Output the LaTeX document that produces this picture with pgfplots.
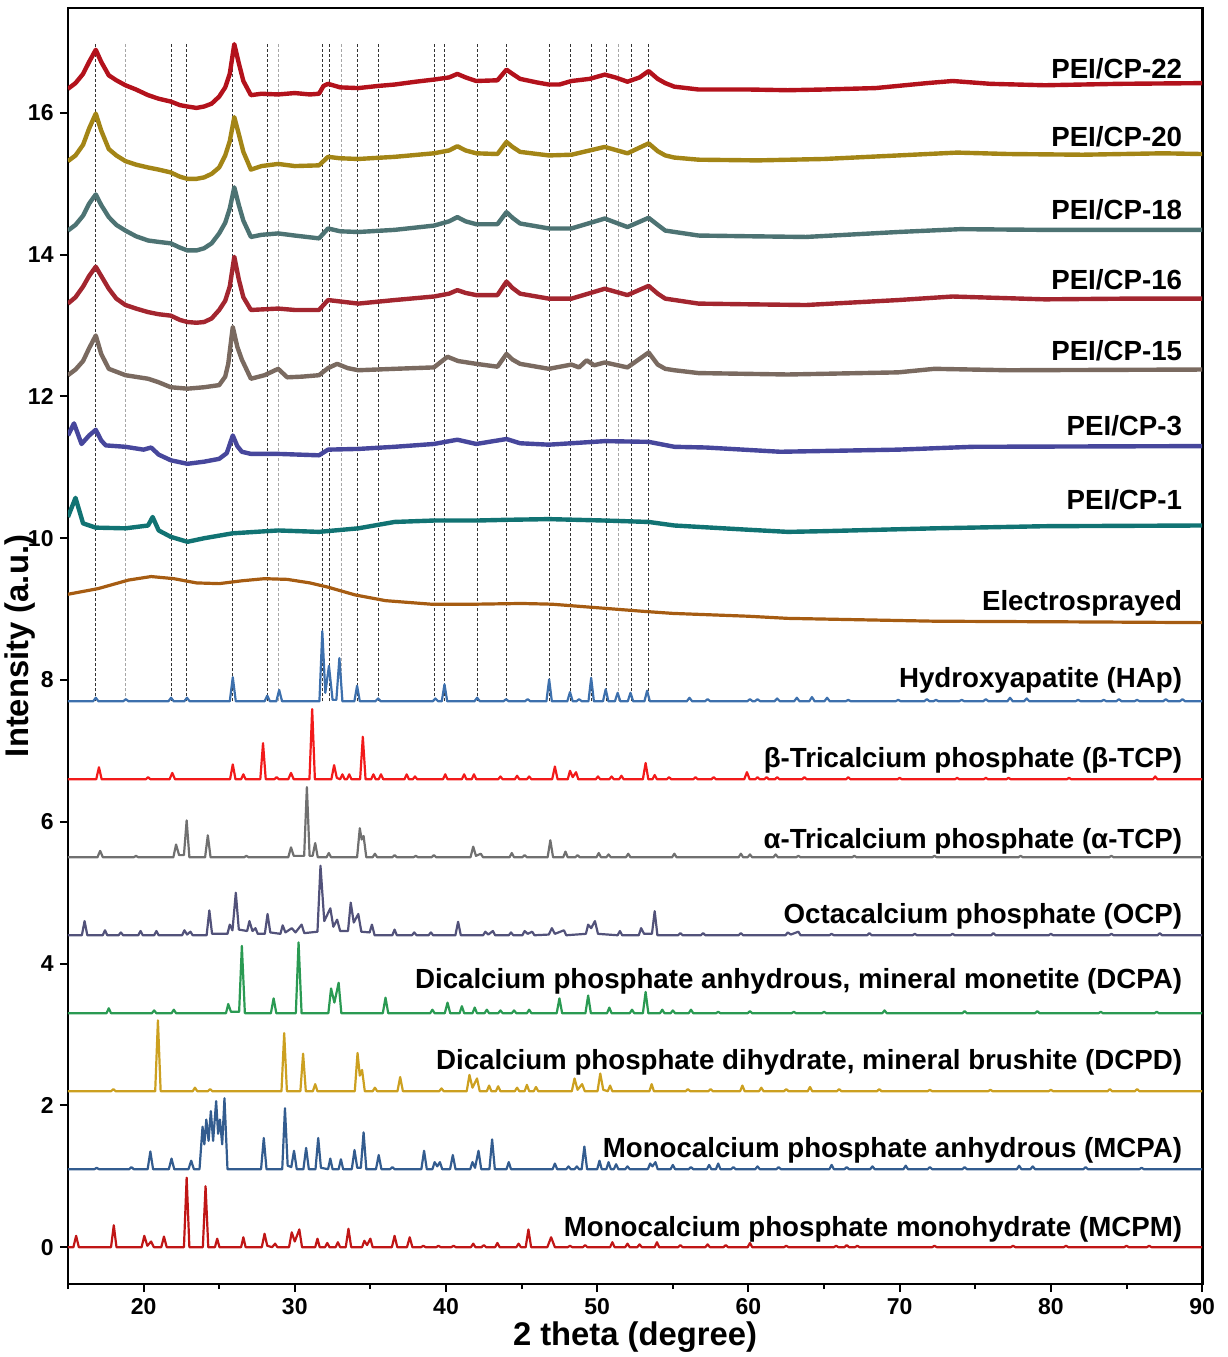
\documentclass[border=0pt]{standalone}
\usepackage{fontspec}
\setmainfont{Liberation Sans}
\usepackage{pgfplots}
\pgfplotsset{compat=1.18}
\definecolor{c22}{HTML}{B3121C}
\definecolor{c20}{HTML}{A38516}
\definecolor{c18}{HTML}{4D7373}
\definecolor{c16}{HTML}{A3262F}
\definecolor{c15}{HTML}{7A6A60}
\definecolor{c3}{HTML}{47479C}
\definecolor{c1}{HTML}{117373}
\definecolor{cel}{HTML}{A65C12}
\definecolor{chap}{HTML}{3D70AD}
\definecolor{cbtcp}{HTML}{F21A1A}
\definecolor{catcp}{HTML}{707070}
\definecolor{cocp}{HTML}{52527A}
\definecolor{cdcpa}{HTML}{2A9A52}
\definecolor{cdcpd}{HTML}{CCA020}
\definecolor{cmcpa}{HTML}{335C8F}
\definecolor{cmcpm}{HTML}{C01616}
\begin{document}
\begin{tikzpicture}
\begin{axis}[
  scale only axis, width=567.5pt, height=638.5pt,
  xmin=15, xmax=90, ymin=-0.52, ymax=17.48,
  xtick={20,30,...,90}, minor xtick={15,25,...,85},
  ytick={0,2,...,16},
  tick align=outside, tick pos=left,
  major tick length=4pt, minor tick length=2.5pt,
  axis line style={line width=1.4pt},
  every tick/.style={line width=1pt, black},
  /pgf/number format/assume math mode=true,
  ticklabel style={font=\bfseries\fontsize{11.5}{13}\selectfont},
  xticklabel style={inner sep=0pt, anchor=north, yshift=-3pt},
  yticklabel style={inner sep=0pt, anchor=east, xshift=-3pt},
  xlabel={2 theta (degree)}, ylabel={Intensity (a.u.)},
  label style={font=\bfseries\fontsize{16.4}{18}\selectfont},
  xlabel style={at={(axis description cs:0.5,-0.0415)}, anchor=center},
  ylabel style={at={(axis description cs:-0.0423,0.5)}, anchor=center},
  every axis plot/.append style={line join=round},
  unbounded coords=jump,
]
% dashed reference lines (HAp positions)
\addplot[black!80, line width=0.5pt, dash pattern=on 1.5pt off 1pt] coordinates {
(16.84,7.7)(16.84,17.0)(16.84,nan)
(21.82,7.7)(21.82,17.0)(21.82,nan)
(22.87,7.7)(22.87,17.0)(22.87,nan)
(25.9,7.7)(25.9,17.0)(25.9,nan)
(28.18,7.7)(28.18,17.0)(28.18,nan)
(31.84,7.7)(31.84,17.0)(31.84,nan)
(32.32,7.7)(32.32,17.0)(32.32,nan)
(34.12,7.7)(34.12,17.0)(34.12,nan)
(35.51,7.7)(35.51,17.0)(35.51,nan)
(39.23,7.7)(39.23,17.0)(39.23,nan)
(39.91,7.7)(39.91,17.0)(39.91,nan)
(42.05,7.7)(42.05,17.0)(42.05,nan)
(43.97,7.7)(43.97,17.0)(43.97,nan)
(46.84,7.7)(46.84,17.0)(46.84,nan)
(48.2,7.7)(48.2,17.0)(48.2,nan)
(49.65,7.7)(49.65,17.0)(49.65,nan)
(50.61,7.7)(50.61,17.0)(50.61,nan)
(52.26,7.7)(52.26,17.0)(52.26,nan)
(53.39,7.7)(53.39,17.0)
};
\addplot[black!35, line width=0.5pt, dash pattern=on 1.5pt off 1pt] coordinates {
(18.83,7.7)(18.83,17.0)(18.83,nan)
(28.91,7.7)(28.91,17.0)(28.91,nan)
(33.07,7.7)(33.07,17.0)(33.07,nan)
(51.43,7.7)(51.43,17.0)
};
% MCPM
\addplot[cmcpm, line width=1.1pt] coordinates {
(15,0)(15.36,0)(15.54,0.16)(15.72,0)(17.85,0)(18.03,0.31)(18.21,0)(19.87,0)(20.05,0.16)(20.25,0.02)(20.5,0.08)(20.68,0)(21.17,0)(21.35,0.15)(21.53,0)(22.67,0)(22.85,0.98)(23.03,0)(23.92,0)(24.1,0.86)(24.28,0)(24.72,0)(24.87,0.12)(25.02,0)(26.45,0)(26.6,0.14)(26.75,0)(27.82,0)(28.0,0.19)(28.18,0.02)(28.5,0)(28.7,0.05)(28.85,0)(29.62,0)(29.8,0.21)(30.0,0.08)(30.3,0.25)(30.48,0)(31.35,0)(31.5,0.12)(31.65,0)(32.0,0)(32.15,0.06)(32.3,0)(32.7,0)(32.85,0.07)(33.0,0)(33.37,0)(33.55,0.26)(33.73,0)(34.45,0)(34.6,0.09)(34.78,0.03)(35.0,0.12)(35.15,0)(36.42,0)(36.6,0.16)(36.78,0)(37.42,0)(37.6,0.14)(37.78,0)(38.35,0)(38.5,0.02)(38.65,0)(39.35,0)(39.5,0.02)(39.65,0)(40.35,0)(40.5,0.02)(40.65,0)(41.65,0)(41.8,0.05)(41.95,0)(42.35,0)(42.5,0.03)(42.65,0)(43.25,0)(43.4,0.06)(43.55,0)(44.65,0)(44.8,0.05)(44.95,0)(45.27,0)(45.45,0.25)(45.63,0)(46.7,0)(46.95,0.14)(47.2,0)(48.05,0)(48.2,0.02)(48.35,0)(49.05,0)(49.2,0.03)(49.35,0)(50.85,0)(51.0,0.07)(51.15,0)(51.85,0)(52.0,0.05)(52.15,0)(52.65,0)(52.8,0.04)(52.95,0)(53.8,0)(53.95,0.07)(54.1,0)(55.35,0)(55.5,0.03)(55.65,0)(57.15,0)(57.3,0.04)(57.45,0)(58.35,0)(58.5,0.03)(58.65,0)(59.95,0)(60.1,0.06)(60.25,0)(62.35,0)(62.5,0.02)(62.65,0)(65.65,0)(65.8,0.02)(65.95,0)(66.35,0)(66.5,0.03)(66.65,0)(67.05,0)(67.2,0.02)(67.35,0)(72.15,0)(72.3,0.02)(72.45,0)(77.35,0)(77.5,0.02)(77.65,0)(80.85,0)(81,0.02)(81.15,0)(84.85,0)(85,0.02)(85.15,0)(86.35,0)(86.5,0.02)(86.65,0)(90,0)
};
% MCPA
\addplot[cmcpa, line width=1.1pt] coordinates {
(15,1.1)(16.75,1.1)(16.9,1.12)(17.05,1.1)(19.05,1.1)(19.2,1.13)(19.35,1.1)(20.27,1.1)(20.45,1.35)(20.63,1.1)(21.67,1.1)(21.85,1.25)(22.03,1.1)(22.97,1.1)(23.15,1.22)(23.33,1.1)(23.7,1.1)(23.9,1.7)(24.02,1.45)(24.15,1.8)(24.3,1.5)(24.45,1.92)(24.6,1.5)(24.8,2.06)(24.93,1.6)(25.05,1.8)(25.2,1.45)(25.35,2.1)(25.55,1.1)(27.77,1.1)(27.95,1.54)(28.13,1.1)(29.17,1.1)(29.35,1.96)(29.53,1.15)(29.77,1.13)(29.95,1.36)(30.13,1.1)(30.57,1.1)(30.75,1.4)(30.93,1.1)(31.37,1.1)(31.55,1.54)(31.73,1.12)(32.2,1.1)(32.35,1.25)(32.5,1.1)(32.9,1.1)(33.05,1.24)(33.2,1.1)(33.77,1.1)(33.95,1.37)(34.13,1.12)(34.37,1.12)(34.55,1.62)(34.73,1.1)(35.37,1.1)(35.55,1.3)(35.73,1.1)(36.3,1.1)(36.45,1.13)(36.6,1.1)(38.37,1.1)(38.55,1.36)(38.73,1.1)(39.1,1.1)(39.25,1.2)(39.42,1.14)(39.6,1.2)(39.75,1.1)(40.27,1.1)(40.45,1.3)(40.63,1.1)(41.6,1.1)(41.75,1.2)(41.92,1.12)(42.15,1.36)(42.33,1.1)(42.87,1.1)(43.05,1.52)(43.23,1.1)(44.0,1.1)(44.15,1.2)(44.3,1.1)(47.05,1.1)(47.2,1.18)(47.35,1.1)(47.95,1.1)(48.1,1.14)(48.25,1.1)(48.5,1.1)(48.65,1.14)(48.8,1.1)(48.97,1.1)(49.15,1.42)(49.33,1.1)(50.0,1.1)(50.15,1.22)(50.3,1.1)(50.6,1.1)(50.75,1.2)(50.9,1.1)(51.1,1.1)(51.25,1.17)(51.4,1.1)(51.85,1.1)(52.0,1.14)(52.15,1.1)(53.35,1.1)(53.5,1.18)(53.65,1.14)(53.85,1.2)(54.0,1.1)(54.85,1.1)(55.0,1.16)(55.15,1.1)(56.05,1.1)(56.2,1.13)(56.35,1.1)(57.25,1.1)(57.4,1.16)(57.55,1.1)(57.85,1.1)(58.0,1.18)(58.15,1.1)(58.85,1.1)(59.0,1.13)(59.15,1.1)(60.45,1.1)(60.6,1.14)(60.75,1.1)(61.85,1.1)(62,1.13)(62.15,1.1)(65.35,1.1)(65.5,1.16)(65.65,1.1)(66.35,1.1)(66.5,1.13)(66.65,1.1)(68.05,1.1)(68.2,1.14)(68.35,1.1)(70.25,1.1)(70.4,1.15)(70.55,1.1)(71.85,1.1)(72,1.13)(72.15,1.1)(74.15,1.1)(74.3,1.13)(74.45,1.1)(77.75,1.1)(77.9,1.15)(78.05,1.1)(78.65,1.1)(78.8,1.14)(78.95,1.1)(82.15,1.1)(82.3,1.13)(82.45,1.1)(85.85,1.1)(86,1.12)(86.15,1.1)(90,1.1)
};
% DCPD
\addplot[cdcpd, line width=1.1pt] coordinates {
(15,2.2)(17.85,2.2)(18.0,2.23)(18.15,2.2)(20.77,2.2)(20.95,3.2)(21.13,2.2)(23.25,2.2)(23.4,2.25)(23.55,2.2)(24.25,2.2)(24.4,2.23)(24.55,2.2)(29.12,2.2)(29.3,3.02)(29.48,2.2)(30.37,2.2)(30.55,2.73)(30.73,2.2)(31.2,2.2)(31.35,2.3)(31.5,2.2)(33.97,2.2)(34.15,2.74)(34.3,2.42)(34.45,2.5)(34.63,2.2)(35.15,2.2)(35.3,2.25)(35.45,2.2)(36.79,2.2)(36.97,2.4)(37.15,2.2)(39.55,2.2)(39.7,2.24)(39.85,2.2)(41.37,2.2)(41.55,2.43)(41.75,2.25)(42.05,2.38)(42.23,2.2)(42.7,2.2)(42.85,2.28)(43.0,2.2)(43.3,2.2)(43.45,2.27)(43.6,2.2)(44.55,2.2)(44.7,2.25)(44.85,2.2)(45.2,2.2)(45.35,2.29)(45.5,2.2)(45.8,2.2)(45.95,2.26)(46.1,2.2)(48.32,2.2)(48.5,2.38)(48.7,2.22)(49.0,2.3)(49.18,2.2)(50.02,2.2)(50.2,2.45)(50.4,2.22)(50.7,2.2)(50.85,2.28)(51.0,2.2)(53.45,2.2)(53.6,2.3)(53.75,2.2)(55.85,2.2)(56,2.23)(56.15,2.2)(57.35,2.2)(57.5,2.23)(57.65,2.2)(59.45,2.2)(59.6,2.28)(59.75,2.2)(60.7,2.2)(60.85,2.25)(61.0,2.2)(62.35,2.2)(62.5,2.23)(62.65,2.2)(63.92,2.2)(64.07,2.26)(64.22,2.2)(65.85,2.2)(66,2.23)(66.15,2.2)(68.5,2.2)(68.65,2.23)(68.8,2.2)(71.85,2.2)(72,2.22)(72.15,2.2)(75.85,2.2)(76,2.22)(76.15,2.2)(79.85,2.2)(80,2.22)(80.15,2.2)(83.75,2.2)(83.9,2.23)(84.05,2.2)(85.55,2.2)(85.7,2.23)(85.85,2.2)(90,2.2)
};
% DCPA
\addplot[cdcpa, line width=1.1pt] coordinates {
(15,3.3)(17.55,3.3)(17.7,3.37)(17.85,3.3)(20.55,3.3)(20.7,3.34)(20.85,3.3)(21.85,3.3)(22.0,3.35)(22.15,3.3)(25.45,3.3)(25.6,3.43)(25.78,3.32)(26.32,3.32)(26.5,4.25)(26.7,3.3)(28.42,3.3)(28.6,3.51)(28.78,3.3)(30.07,3.3)(30.25,4.3)(30.45,3.3)(32.22,3.3)(32.4,3.65)(32.62,3.45)(32.9,3.73)(33.08,3.3)(35.82,3.3)(36.0,3.52)(36.18,3.3)(38.95,3.3)(39.1,3.35)(39.25,3.3)(39.92,3.3)(40.1,3.45)(40.28,3.3)(40.9,3.3)(41.05,3.4)(41.2,3.3)(41.75,3.3)(41.9,3.38)(42.05,3.3)(42.55,3.3)(42.7,3.35)(42.85,3.3)(43.45,3.3)(43.6,3.34)(43.75,3.3)(44.35,3.3)(44.5,3.34)(44.65,3.3)(45.35,3.3)(45.5,3.35)(45.65,3.3)(47.32,3.3)(47.5,3.51)(47.68,3.3)(49.22,3.3)(49.4,3.55)(49.58,3.3)(50.65,3.3)(50.8,3.38)(50.95,3.3)(52.15,3.3)(52.3,3.35)(52.45,3.3)(53.02,3.3)(53.2,3.6)(53.38,3.3)(54.15,3.3)(54.3,3.35)(54.45,3.3)(54.85,3.3)(55.0,3.34)(55.15,3.3)(56.05,3.3)(56.2,3.35)(56.35,3.3)(57.85,3.3)(58,3.32)(58.15,3.3)(59.95,3.3)(60.1,3.33)(60.25,3.3)(62.85,3.3)(63,3.32)(63.15,3.3)(64.85,3.3)(65,3.32)(65.15,3.3)(68.85,3.3)(69,3.34)(69.15,3.3)(74.15,3.3)(74.3,3.33)(74.45,3.3)(78.95,3.3)(79.1,3.33)(79.25,3.3)(83.15,3.3)(83.3,3.32)(83.45,3.3)(86.85,3.3)(87,3.32)(87.15,3.3)(90,3.3)
};
% OCP
\addplot[cocp, line width=1.1pt] coordinates {
(15,4.4)(15.92,4.4)(16.1,4.6)(16.28,4.4)(17.3,4.4)(17.45,4.47)(17.6,4.4)(18.35,4.4)(18.5,4.44)(18.65,4.4)(19.65,4.4)(19.8,4.46)(19.95,4.4)(20.7,4.4)(20.85,4.46)(21.0,4.4)(22.55,4.4)(22.7,4.47)(22.88,4.41)(23.1,4.45)(23.25,4.4)(24.17,4.4)(24.35,4.75)(24.53,4.42)(25.55,4.42)(25.7,4.55)(25.88,4.47)(26.1,5.0)(26.3,4.48)(26.85,4.46)(27.0,4.6)(27.2,4.46)(27.4,4.5)(27.55,4.42)(28.02,4.42)(28.2,4.7)(28.38,4.44)(29.05,4.42)(29.2,4.54)(29.38,4.44)(29.8,4.5)(30.05,4.44)(30.45,4.55)(30.63,4.43)(31.5,4.45)(31.7,5.38)(31.95,4.6)(32.35,4.78)(32.55,4.52)(32.8,4.62)(33.0,4.46)(33.52,4.46)(33.7,4.86)(33.9,4.58)(34.2,4.7)(34.4,4.45)(34.95,4.44)(35.1,4.55)(35.28,4.4)(36.45,4.4)(36.6,4.48)(36.75,4.4)(37.75,4.4)(37.9,4.44)(38.05,4.4)(38.85,4.4)(39.0,4.44)(39.15,4.4)(40.62,4.4)(40.8,4.59)(40.98,4.4)(42.45,4.4)(42.6,4.45)(42.8,4.41)(43.1,4.46)(43.25,4.4)(44.15,4.4)(44.3,4.44)(44.45,4.4)(45.05,4.4)(45.2,4.46)(45.4,4.42)(45.7,4.45)(45.85,4.4)(46.8,4.41)(47.0,4.5)(47.2,4.42)(47.8,4.47)(47.95,4.4)(49.25,4.42)(49.4,4.55)(49.6,4.5)(49.85,4.6)(50.05,4.42)(51.35,4.4)(51.5,4.46)(51.65,4.4)(52.75,4.4)(52.9,4.5)(53.1,4.42)(53.62,4.42)(53.8,4.74)(53.98,4.4)(55.35,4.4)(55.5,4.43)(55.65,4.4)(56.85,4.4)(57.0,4.43)(57.15,4.4)(59.35,4.4)(59.5,4.43)(59.65,4.4)(62.45,4.4)(62.6,4.44)(62.8,4.41)(63.3,4.45)(63.45,4.4)(65.35,4.4)(65.5,4.42)(65.65,4.4)(67.85,4.4)(68,4.43)(68.15,4.4)(70.85,4.4)(71,4.42)(71.15,4.4)(73.35,4.4)(73.5,4.42)(73.65,4.4)(76.05,4.4)(76.2,4.43)(76.35,4.4)(79.85,4.4)(80,4.42)(80.15,4.4)(83.85,4.4)(84,4.42)(84.15,4.4)(87.05,4.4)(87.2,4.43)(87.35,4.4)(90,4.4)
};
% alpha-TCP
\addplot[catcp, line width=1.1pt] coordinates {
(15,5.5)(16.95,5.5)(17.13,5.59)(17.31,5.5)(19.35,5.5)(19.5,5.52)(19.65,5.5)(21.97,5.5)(22.15,5.68)(22.35,5.53)(22.67,5.53)(22.85,6.02)(23.03,5.5)(24.07,5.5)(24.25,5.81)(24.43,5.5)(26.65,5.5)(26.8,5.52)(26.95,5.5)(29.57,5.5)(29.75,5.64)(29.93,5.52)(30.62,5.52)(30.8,6.49)(30.98,5.52)(31.18,5.52)(31.35,5.7)(31.52,5.5)(32.1,5.5)(32.25,5.56)(32.4,5.5)(34.12,5.5)(34.3,5.91)(34.42,5.75)(34.55,5.8)(34.73,5.5)(35.15,5.5)(35.3,5.55)(35.45,5.5)(36.45,5.5)(36.6,5.53)(36.75,5.5)(37.85,5.5)(38,5.52)(38.15,5.5)(39.05,5.5)(39.2,5.53)(39.35,5.5)(41.62,5.5)(41.8,5.65)(41.98,5.52)(42.3,5.55)(42.45,5.5)(44.2,5.5)(44.35,5.56)(44.5,5.5)(45.05,5.5)(45.2,5.53)(45.35,5.5)(46.72,5.5)(46.9,5.74)(47.08,5.5)(47.75,5.5)(47.9,5.58)(48.05,5.5)(48.55,5.5)(48.7,5.53)(48.85,5.5)(49.95,5.5)(50.1,5.56)(50.25,5.5)(50.6,5.5)(50.75,5.54)(50.9,5.5)(51.9,5.5)(52.05,5.55)(52.2,5.5)(54.95,5.5)(55.1,5.55)(55.25,5.5)(59.35,5.5)(59.5,5.55)(59.65,5.5)(59.95,5.5)(60.1,5.54)(60.25,5.5)(61.65,5.5)(61.8,5.54)(61.95,5.5)(63.15,5.5)(63.3,5.52)(63.45,5.5)(66.85,5.5)(67,5.52)(67.15,5.5)(72.15,5.5)(72.3,5.52)(72.45,5.5)(77.85,5.5)(78,5.52)(78.15,5.5)(83.85,5.5)(84,5.52)(84.15,5.5)(90,5.5)
};
% beta-TCP
\addplot[cbtcp, line width=1.1pt] coordinates {
(15,6.6)(16.87,6.6)(17.05,6.77)(17.23,6.6)(20.15,6.6)(20.3,6.63)(20.45,6.6)(21.72,6.6)(21.9,6.69)(22.08,6.6)(25.72,6.6)(25.9,6.81)(26.08,6.6)(26.45,6.6)(26.6,6.67)(26.75,6.6)(27.72,6.6)(27.9,7.11)(28.08,6.6)(28.65,6.6)(28.8,6.63)(28.95,6.6)(29.57,6.6)(29.75,6.69)(29.93,6.6)(30.97,6.6)(31.15,7.59)(31.33,6.6)(32.42,6.6)(32.6,6.8)(32.78,6.62)(33.0,6.6)(33.15,6.67)(33.3,6.6)(33.45,6.6)(33.6,6.67)(33.75,6.6)(34.32,6.6)(34.5,7.2)(34.68,6.6)(35.05,6.6)(35.2,6.67)(35.35,6.6)(35.55,6.6)(35.7,6.67)(35.85,6.6)(37.25,6.6)(37.4,6.67)(37.55,6.6)(37.8,6.6)(37.95,6.64)(38.1,6.6)(39.8,6.6)(39.95,6.67)(40.1,6.6)(41.05,6.6)(41.2,6.67)(41.35,6.6)(41.7,6.6)(41.85,6.67)(42.0,6.6)(43.45,6.6)(43.6,6.64)(43.75,6.6)(44.55,6.6)(44.7,6.65)(44.85,6.6)(45.35,6.6)(45.5,6.64)(45.65,6.6)(47.02,6.6)(47.2,6.78)(47.38,6.6)(48.05,6.6)(48.2,6.72)(48.38,6.63)(48.6,6.7)(48.75,6.6)(49.9,6.6)(50.05,6.64)(50.2,6.6)(50.8,6.6)(50.95,6.64)(51.1,6.6)(51.45,6.6)(51.6,6.65)(51.75,6.6)(53.02,6.6)(53.2,6.83)(53.38,6.6)(53.65,6.6)(53.8,6.66)(53.95,6.6)(54.6,6.6)(54.75,6.63)(54.9,6.6)(56.35,6.6)(56.5,6.63)(56.65,6.6)(57.55,6.6)(57.7,6.63)(57.85,6.6)(59.72,6.6)(59.9,6.7)(60.08,6.6)(60.45,6.6)(60.6,6.63)(60.75,6.6)(61.05,6.6)(61.2,6.63)(61.35,6.6)(61.75,6.6)(61.9,6.63)(62.05,6.6)(63.55,6.6)(63.7,6.63)(63.85,6.6)(66.45,6.6)(66.6,6.63)(66.75,6.6)(69.85,6.6)(70,6.62)(70.15,6.6)(73.65,6.6)(73.8,6.62)(73.95,6.6)(75.55,6.6)(75.7,6.62)(75.85,6.6)(77.05,6.6)(77.2,6.62)(77.35,6.6)(81.05,6.6)(81.2,6.62)(81.35,6.6)(86.75,6.6)(86.9,6.64)(87.05,6.6)(90,6.6)
};
% HAp
\addplot[chap, line width=1.1pt] coordinates {
(15,7.7)(16.66,7.7)(16.84,7.75)(17.02,7.7)(18.65,7.7)(18.83,7.73)(19.01,7.7)(21.64,7.7)(21.82,7.75)(22.0,7.7)(22.69,7.7)(22.87,7.75)(23.05,7.7)(25.7,7.7)(25.9,8.04)(26.1,7.7)(28.0,7.7)(28.18,7.78)(28.36,7.7)(28.78,7.7)(28.97,7.86)(29.16,7.7)(31.63,7.7)(31.82,8.69)(32.02,7.82)(32.26,8.2)(32.5,7.72)(32.75,7.72)(32.95,8.31)(33.15,7.7)(33.94,7.7)(34.12,7.92)(34.3,7.7)(35.33,7.7)(35.51,7.74)(35.69,7.7)(39.12,7.7)(39.3,7.74)(39.48,7.7)(39.72,7.7)(39.9,7.94)(40.08,7.7)(41.88,7.7)(42.06,7.75)(42.24,7.7)(43.8,7.7)(43.97,7.73)(44.15,7.7)(45.22,7.7)(45.4,7.73)(45.58,7.7)(46.64,7.7)(46.82,8.01)(47.0,7.7)(48.02,7.7)(48.2,7.83)(48.38,7.7)(48.62,7.7)(48.8,7.73)(48.98,7.7)(49.42,7.7)(49.6,8.03)(49.78,7.7)(50.38,7.7)(50.56,7.87)(50.74,7.7)(51.17,7.7)(51.35,7.82)(51.53,7.7)(52.02,7.7)(52.2,7.82)(52.38,7.7)(53.12,7.7)(53.3,7.85)(53.48,7.7)(55.92,7.7)(56.1,7.75)(56.28,7.7)(57.12,7.7)(57.3,7.73)(57.48,7.7)(59.92,7.7)(60.1,7.73)(60.28,7.7)(60.42,7.7)(60.6,7.73)(60.78,7.7)(61.72,7.7)(61.9,7.74)(62.08,7.7)(63.02,7.7)(63.2,7.75)(63.38,7.7)(64.02,7.7)(64.2,7.76)(64.38,7.7)(65.02,7.7)(65.2,7.75)(65.38,7.7)(66.42,7.7)(66.6,7.72)(66.78,7.7)(69.72,7.7)(69.9,7.72)(70.08,7.7)(71.62,7.7)(71.8,7.73)(71.98,7.7)(72.22,7.7)(72.4,7.72)(72.58,7.7)(73.92,7.7)(74.1,7.72)(74.28,7.7)(75.52,7.7)(75.7,7.73)(75.88,7.7)(77.12,7.7)(77.3,7.75)(77.48,7.7)(78.22,7.7)(78.4,7.74)(78.58,7.7)(81.62,7.7)(81.8,7.72)(81.98,7.7)(83.32,7.7)(83.5,7.72)(83.68,7.7)(84.32,7.7)(84.5,7.73)(84.68,7.7)(85.52,7.7)(85.7,7.72)(85.88,7.7)(87.42,7.7)(87.6,7.73)(87.78,7.7)(88.52,7.7)(88.7,7.73)(88.88,7.7)(90,7.7)
};
% Electrosprayed
\addplot[cel, line width=1.6pt] coordinates {
(15,9.21)(17,9.29)(19,9.41)(20.5,9.46)(22,9.43)(23.5,9.37)(25,9.36)(26.5,9.40)(28,9.43)(29.5,9.42)(31,9.37)(32.2,9.31)(34,9.20)(36,9.12)(39,9.07)(42,9.07)(45,9.08)(47,9.07)(50,9.02)(53,8.97)(55,8.94)(60,8.9)(62.6,8.87)(72.3,8.83)(82,8.82)(90,8.81)
};
% PEI/CP-1
\addplot[c1, line width=2.2pt] coordinates {
(15,10.30)(15.5,10.57)(16.0,10.21)(16.84,10.15)(18.8,10.14)(20.3,10.18)(20.6,10.30)(21.0,10.11)(21.8,10.02)(22.9,9.95)(24.0,10.00)(25.9,10.07)(28.9,10.11)(31.6,10.09)(34.2,10.14)(36.6,10.23)(39.2,10.25)(42.0,10.25)(44.0,10.26)(46.8,10.27)(50.5,10.25)(53.4,10.23)(55.1,10.18)(60,10.12)(62.6,10.09)(65,10.1)(72.3,10.14)(79.6,10.17)(90,10.18)
};
% PEI/CP-3
\addplot[c3, line width=2.2pt] coordinates {
(15,11.45)(15.4,11.62)(15.9,11.33)(16.4,11.45)(16.84,11.53)(17.2,11.38)(17.5,11.31)(18.8,11.29)(20.0,11.25)(20.5,11.28)(21.0,11.18)(21.8,11.10)(22.9,11.05)(24.0,11.08)(25.0,11.12)(25.5,11.2)(25.9,11.45)(26.2,11.3)(26.5,11.22)(27.1,11.19)(28.9,11.19)(31.6,11.17)(32.2,11.25)(34.2,11.26)(36.6,11.29)(39.2,11.33)(40.75,11.39)(42.0,11.33)(44.0,11.40)(44.9,11.34)(46.8,11.32)(50.5,11.37)(53.4,11.36)(55.1,11.29)(57.2,11.28)(62.1,11.22)(69.9,11.25)(74.8,11.29)(90,11.30)
};
% PEI/CP-15
\addplot[c15, line width=2.2pt] coordinates {
(15,12.30)(15.5,12.38)(16.0,12.5)(16.4,12.68)(16.84,12.86)(17.2,12.6)(17.7,12.39)(18.8,12.30)(20.3,12.25)(21.0,12.2)(21.8,12.13)(22.9,12.11)(24.0,12.13)(25.0,12.16)(25.4,12.28)(25.6,12.46)(25.9,12.98)(26.2,12.7)(26.5,12.52)(27.1,12.25)(28.0,12.3)(28.9,12.39)(29.5,12.27)(30.5,12.28)(31.6,12.30)(32.2,12.4)(32.8,12.46)(33.5,12.4)(34.2,12.37)(36.6,12.39)(39.2,12.41)(40.1,12.56)(40.8,12.5)(42.0,12.46)(43.4,12.42)(44.0,12.60)(44.4,12.52)(44.9,12.46)(46.8,12.39)(48.3,12.45)(48.8,12.41)(49.3,12.51)(49.8,12.44)(50.5,12.48)(52.0,12.41)(53.4,12.62)(54.0,12.45)(54.5,12.39)(55.1,12.37)(56.7,12.33)(62.6,12.31)(69.9,12.34)(72.3,12.39)(77.2,12.37)(90,12.38)
};
% PEI/CP-16
\addplot[c16, line width=2.2pt] coordinates {
(15,13.31)(15.5,13.4)(16.0,13.55)(16.4,13.7)(16.84,13.83)(17.2,13.7)(17.7,13.52)(18.2,13.38)(18.8,13.29)(19.5,13.24)(20.3,13.19)(21.0,13.16)(21.8,13.14)(22.4,13.08)(22.9,13.05)(23.5,13.04)(24.0,13.05)(24.5,13.1)(25.0,13.22)(25.4,13.35)(25.7,13.55)(26.0,13.97)(26.3,13.65)(26.6,13.4)(27.1,13.22)(28.9,13.24)(30.0,13.22)(31.6,13.22)(32.2,13.36)(34.2,13.31)(36.6,13.36)(39.2,13.41)(40.2,13.45)(40.75,13.50)(41.3,13.46)(42.0,13.43)(43.4,13.43)(44.0,13.62)(44.4,13.53)(44.9,13.45)(46.8,13.38)(48.3,13.38)(50.5,13.52)(52.0,13.43)(53.4,13.56)(54.0,13.45)(54.5,13.38)(56.7,13.31)(60,13.3)(63.8,13.29)(69.9,13.36)(73.5,13.41)(79.6,13.37)(85,13.38)(90,13.38)
};
% PEI/CP-18
\addplot[c18, line width=2.2pt] coordinates {
(15,14.34)(15.5,14.42)(16.0,14.55)(16.4,14.72)(16.84,14.85)(17.2,14.7)(17.7,14.53)(18.2,14.42)(18.8,14.34)(19.5,14.26)(20.3,14.20)(21.0,14.18)(21.8,14.16)(22.4,14.1)(22.9,14.06)(23.5,14.06)(24.0,14.09)(24.5,14.16)(25.0,14.30)(25.4,14.45)(25.7,14.65)(26.0,14.95)(26.3,14.7)(26.6,14.48)(27.1,14.25)(27.8,14.28)(28.9,14.30)(30.0,14.27)(31.6,14.23)(32.2,14.37)(33.0,14.33)(34.2,14.32)(36.6,14.35)(39.2,14.41)(40.2,14.47)(40.75,14.53)(41.3,14.47)(42.0,14.43)(43.4,14.43)(44.0,14.60)(44.4,14.52)(44.9,14.44)(46.8,14.37)(48.3,14.37)(50.5,14.51)(52.0,14.39)(53.4,14.52)(54.0,14.42)(54.5,14.34)(56.7,14.27)(60,14.26)(63.8,14.25)(69.9,14.32)(74,14.36)(79.6,14.35)(85,14.35)(90,14.35)
};
% PEI/CP-20
\addplot[c20, line width=2.2pt] coordinates {
(15,15.32)(15.5,15.4)(16.0,15.55)(16.4,15.78)(16.84,15.99)(17.2,15.75)(17.7,15.49)(18.2,15.4)(18.8,15.32)(19.5,15.27)(20.3,15.23)(21.0,15.2)(21.8,15.16)(22.4,15.1)(22.9,15.07)(23.5,15.07)(24.0,15.09)(24.5,15.14)(25.0,15.23)(25.4,15.4)(25.7,15.6)(26.0,15.94)(26.3,15.7)(26.6,15.45)(27.1,15.2)(27.8,15.25)(28.9,15.28)(30.0,15.25)(31.6,15.26)(32.2,15.38)(33.0,15.36)(34.2,15.35)(36.6,15.38)(39.2,15.43)(40.2,15.47)(40.75,15.53)(41.3,15.47)(42.0,15.43)(43.4,15.42)(44.0,15.59)(44.4,15.52)(44.9,15.45)(46.8,15.40)(48.3,15.41)(50.5,15.52)(52.0,15.43)(53.4,15.57)(54.0,15.46)(54.5,15.40)(55.1,15.37)(56.7,15.34)(60.6,15.33)(65,15.35)(69.9,15.40)(73.8,15.44)(77.2,15.42)(82.1,15.41)(87.4,15.43)(90,15.42)
};
% PEI/CP-22
\addplot[c22, line width=2.2pt] coordinates {
(15,16.34)(15.5,16.42)(16.0,16.55)(16.4,16.72)(16.84,16.89)(17.2,16.72)(17.7,16.53)(18.2,16.46)(18.8,16.39)(19.5,16.33)(20.3,16.25)(21.0,16.2)(21.8,16.16)(22.4,16.11)(22.9,16.09)(23.5,16.07)(24.0,16.09)(24.5,16.13)(25.0,16.23)(25.4,16.36)(25.7,16.55)(26.0,16.97)(26.3,16.7)(26.6,16.45)(27.1,16.25)(27.8,16.27)(28.9,16.26)(30.0,16.28)(31.0,16.26)(31.6,16.27)(31.9,16.38)(32.2,16.41)(33.0,16.36)(34.2,16.35)(35.5,16.38)(36.6,16.40)(38.0,16.44)(39.2,16.47)(40.2,16.5)(40.75,16.55)(41.3,16.5)(42.0,16.45)(43.4,16.46)(44.0,16.61)(44.4,16.55)(44.9,16.48)(46.0,16.43)(46.8,16.40)(47.5,16.40)(48.3,16.45)(49.5,16.48)(50.5,16.54)(51.2,16.5)(52.0,16.44)(52.8,16.5)(53.4,16.59)(54.0,16.48)(54.5,16.42)(55.1,16.37)(56.7,16.33)(60,16.33)(62.6,16.32)(65,16.33)(68.4,16.35)(71.8,16.42)(73.5,16.45)(76,16.41)(79.6,16.39)(84.5,16.41)(90,16.42)
};
% labels
\begin{scope}[every node/.style={anchor=base east, inner sep=0pt, font=\bfseries\fontsize{13.85}{15}\selectfont}]
\node at (axis cs:88.7,16.49) {PEI/CP-22};
\node at (axis cs:88.7,15.53) {PEI/CP-20};
\node at (axis cs:88.7,14.49) {PEI/CP-18};
\node at (axis cs:88.7,13.51) {PEI/CP-16};
\node at (axis cs:88.7,12.51) {PEI/CP-15};
\node at (axis cs:88.7,11.45) {PEI/CP-3};
\node at (axis cs:88.7,10.40) {PEI/CP-1};
\node at (axis cs:88.7,8.98) {Electrosprayed};
\node at (axis cs:88.7,7.90) {Hydroxyapatite (HAp)};
\node at (axis cs:88.7,6.77) {β-Tricalcium phosphate (β-TCP)};
\node at (axis cs:88.7,5.63) {α-Tricalcium phosphate (α-TCP)};
\node at (axis cs:88.7,4.57) {Octacalcium phosphate (OCP)};
\node at (axis cs:88.7,3.65) {Dicalcium phosphate anhydrous, mineral monetite (DCPA)};
\node at (axis cs:88.7,2.50) {Dicalcium phosphate dihydrate, mineral brushite (DCPD)};
\node at (axis cs:88.7,1.27) {Monocalcium phosphate anhydrous (MCPA)};
\node at (axis cs:88.7,0.155) {Monocalcium phosphate monohydrate (MCPM)};
\end{scope}
\end{axis}
\pgfresetboundingbox
\path[use as bounding box] ([shift={(-34pt,-36.5pt)}]current axis.south west) rectangle ([shift={(12.5pt,4pt)}]current axis.north east);
\end{tikzpicture}
\end{document}
